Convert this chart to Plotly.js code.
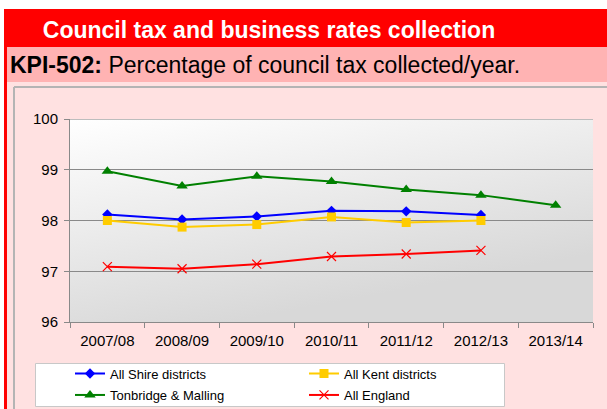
<!DOCTYPE html>
<html>
<head>
<meta charset="utf-8">
<script src="https://cdn.plot.ly/plotly-3.0.1.min.js"></script>
<style>
html,body{margin:0;padding:0;background:#fff;}
#chart{width:607px;height:409px;}
</style>
</head>
<body>
<div id="chart"></div>
<script>
// ---- data ----
var categories = ["2007/08","2008/09","2009/10","2010/11","2011/12","2012/13","2013/14"];
var shireValues = [98.12, 98.02, 98.08, 98.19, 98.18, 98.11];
var kentValues = [98.00, 97.87, 97.92, 98.07, 97.96, 98.00];
var tonbridgeValues = [98.97, 98.68, 98.87, 98.77, 98.61, 98.50, 98.30];
var englandValues = [97.09, 97.05, 97.14, 97.29, 97.34, 97.41];
var seriesNames = ["All Shire districts","All Kent districts","Tonbridge & Malling","All England"];
var yTicks = [96, 97, 98, 99, 100];

// ---- geometry helpers (pixel -> paper) ----
var W = 607, H = 409;
var L = 70, R = 593, T = 119, B = 322;
function px(x){ return (x - L) / (R - L); }
function py(y){ return (B - y) / (B - T); }

var FONT = "Liberation Sans, Arial, sans-serif";

function cats(vals){ return categories.slice(0, vals.length); }

var traces = [
  {x: cats(shireValues), y: shireValues, name: seriesNames[0], type: "scatter", mode: "lines+markers",
   line: {color: "#0000FF", width: 2}, marker: {symbol: "diamond", size: 8, color: "#0000FF"}, legend: "legend"},
  {x: cats(kentValues), y: kentValues, name: seriesNames[1], type: "scatter", mode: "lines+markers",
   line: {color: "#FFCC00", width: 2}, marker: {symbol: "square", size: 9, color: "#FFCC00"}, legend: "legend"},
  {x: cats(tonbridgeValues), y: tonbridgeValues, name: seriesNames[2], type: "scatter", mode: "lines+markers",
   line: {color: "#008000", width: 2}, marker: {symbol: "triangle-up", size: 10, color: "#008000"}, legend: "legend2"},
  {x: cats(englandValues), y: englandValues, name: seriesNames[3], type: "scatter", mode: "lines+markers",
   line: {color: "#FF0000", width: 2}, marker: {symbol: "x-thin-open", size: 9, color: "#FF0000", line: {color: "#FF0000", width: 1.2}}, legend: "legend2"}
];

var svg = "<svg xmlns='http://www.w3.org/2000/svg' width='523' height='203' viewBox='0 0 523 203' preserveAspectRatio='none'>" +
  "<defs><linearGradient id='g' gradientUnits='userSpaceOnUse' x1='0' y1='0' x2='42' y2='225'>" +
  "<stop offset='0' stop-color='#ffffff'/><stop offset='1' stop-color='#d8d8d8'/></linearGradient></defs>" +
  "<rect width='523' height='203' fill='url(#g)'/></svg>";
var gradSrc = "data:image/svg+xml;charset=utf-8," + encodeURIComponent(svg);

function rect(x0, y0, x1, y1, fill, lineColor, lineWidth){
  return {type: "rect", xref: "paper", yref: "paper", x0: px(x0), x1: px(x1), y0: py(y0), y1: py(y1),
    fillcolor: fill, line: {color: lineColor || fill, width: lineWidth || 0}, layer: "below"};
}
function seg(x0, y0, x1, y1, color, width){
  return {type: "line", xref: "paper", yref: "paper", x0: px(x0), x1: px(x1), y0: py(y0), y1: py(y1),
    line: {color: color, width: width}, layer: "below"};
}

var shapes = [
  rect(0, 0, 607, 9, "#FFFFFF"),
  rect(0, 0, 4, 409, "#FFFFFF"),
  rect(4, 9, 607, 47, "#FF0000"),
  rect(4, 9, 7, 409, "#FF0000"),
  rect(7, 47, 607, 82, "#FFB3B3"),
  seg(14, 87, 607, 87, "#B4B4B4", 2),
  seg(14, 87, 14, 409, "#B4B4B4", 2),
  rect(35.5, 363.5, 504.5, 406.5, "#FFFFFF", "#C8C8C8", 1),
  {type: "line", xref: "paper", yref: "y", x0: 0, x1: 1, y0: 100, y1: 100,
   line: {color: "#BDBDBD", width: 2}, layer: "above"}
];

var legendCommon = {orientation: "h", xanchor: "left", yanchor: "middle",
  bgcolor: "rgba(0,0,0,0)", borderwidth: 0, entrywidth: 189, entrywidthmode: "pixels",
  font: {family: FONT, size: 13, color: "#000000"}, itemwidth: 30};

var layout = {
  width: W, height: H,
  margin: {l: L, r: W - R, t: T, b: H - B, pad: 0, autoexpand: false},
  paper_bgcolor: "#FFE1E1",
  plot_bgcolor: "rgba(0,0,0,0)",
  font: {family: FONT, size: 15, color: "#000000"},
  title: {text: "<b>Council tax and business rates collection</b>", font: {family: FONT, size: 23, color: "#FFFFFF"},
    xref: "container", yref: "container", x: 269 / W, xanchor: "center", y: 1 - 30 / H, yanchor: "middle"},
  annotations: [
    {text: "<b>KPI-502:</b> Percentage of council tax collected/year.", xref: "paper", yref: "paper",
     x: px(8), xanchor: "left", y: py(64.5), yanchor: "middle", showarrow: false,
     font: {family: FONT, size: 23, color: "#000000"}}
  ],
  xaxis: {
    type: "category", categoryorder: "array", categoryarray: categories,
    range: [-0.5, categories.length - 0.5], fixedrange: true,
    showgrid: false, showline: true, linecolor: "#898989", linewidth: 1,
    ticks: "outside", tickson: "boundaries", ticklen: 5, tickcolor: "#898989", ticklabelstandoff: 5,
    tickfont: {family: FONT, size: 15, color: "#000000"}, zeroline: false
  },
  yaxis: {
    range: [96, 100], tickvals: yTicks, ticktext: yTicks.map(String), fixedrange: true,
    showgrid: true, gridcolor: "#898989", gridwidth: 1,
    showline: true, linecolor: "#898989", linewidth: 1,
    ticks: "outside", ticklen: 5, tickcolor: "#898989", ticklabelstandoff: 3,
    tickfont: {family: FONT, size: 15, color: "#000000"}, zeroline: false
  },
  images: [{source: gradSrc, xref: "paper", yref: "paper", x: 0, y: 1, sizex: 1, sizey: 1,
    sizing: "stretch", xanchor: "left", yanchor: "top", layer: "below"}],
  shapes: shapes,
  showlegend: true,
  legend: Object.assign({}, legendCommon, {x: px(70), y: py(373.5)}),
  legend2: Object.assign({}, legendCommon, {x: px(70), y: py(395)})
};

Plotly.newPlot("chart", traces, layout, {staticPlot: true, displayModeBar: false});
</script>
</body>
</html>
